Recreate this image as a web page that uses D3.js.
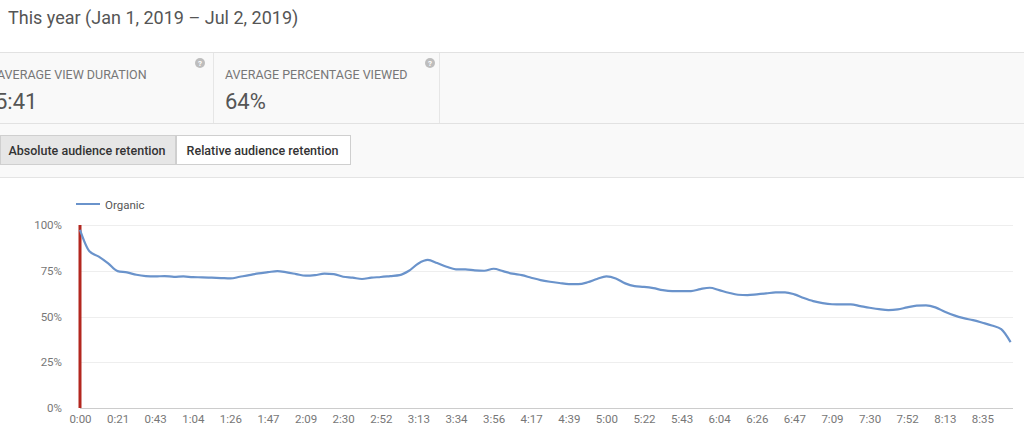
<!DOCTYPE html>
<html>
<head>
<meta charset="utf-8">
<script src="https://cdn.jsdelivr.net/npm/d3@7"></script>
<style>
  html, body { margin: 0; padding: 0; background: #ffffff; overflow: hidden; }
  svg { display: block; font-family: Roboto, "Noto Sans", Arial, sans-serif; }
</style>
</head>
<body>
<svg id="chart" width="1024" height="429"></svg>
<script>
// ---- data ----
const titleText = "This year (Jan 1, 2019 \u2013 Jul 2, 2019)";
const metricLabels = ["AVERAGE VIEW DURATION", "AVERAGE PERCENTAGE VIEWED"];
const metricValues = ["5:41", "64%"];
const buttonLabels = ["Absolute audience retention", "Relative audience retention"];
const seriesName = "Organic";
// audience retention (%) at each of 100 points of the video
const retention = [
  97.3,85.6,82.7,79.0,74.8,74.1,72.8,72.1,71.9,72.1,
  71.7,71.9,71.5,71.4,71.2,71.0,70.8,71.7,72.6,73.6,
  74.2,74.8,74.1,73.2,72.3,72.6,73.4,73.2,71.7,71.2,
  70.5,71.2,71.6,72.1,72.6,75.0,79.0,80.9,79.2,77.2,
  75.8,75.8,75.2,75.0,76.1,74.8,73.4,72.6,71.2,69.9,
  69.0,68.3,67.7,67.7,68.7,70.5,71.9,70.8,68.1,66.6,
  66.2,65.5,64.4,63.9,63.9,63.9,65.0,65.7,64.4,63.0,
  61.9,61.7,62.1,62.6,63.2,63.2,62.1,60.1,58.4,57.3,
  56.7,56.6,56.6,55.7,54.8,54.0,53.5,53.9,55.0,55.9,
  56.1,55.0,52.6,50.6,49.1,48.0,46.6,45.1,43.1,36.0
];
const xTickLabels = ["0:00","0:21","0:43","1:04","1:26","1:47","2:09","2:30","2:52","3:13",
  "3:34","3:56","4:17","4:39","5:00","5:22","5:43","6:04","6:26","6:47",
  "7:09","7:30","7:52","8:13","8:35"];
const xTickPoints = [0,4,8,12,16,20,24,28,32,36,40,44,48,52,56,60,64,68,72,76,80,84,88,92,96];
const yTicks = [0, 25, 50, 75, 100];

// ---- drawing ----
const svg = d3.select("#chart");

// title
svg.append("text").attr("x", 8).attr("y", 24)
  .attr("font-size", 18).attr("fill", "#555").text(titleText);

// metrics panel
svg.append("rect").attr("x", 0).attr("y", 52).attr("width", 1024).attr("height", 125)
  .attr("fill", "#f9f9f9");
svg.append("line").attr("x1", 0).attr("x2", 1024).attr("y1", 52.5).attr("y2", 52.5)
  .attr("stroke", "#e2e2e2");
svg.append("line").attr("x1", 0).attr("x2", 1024).attr("y1", 123.5).attr("y2", 123.5)
  .attr("stroke", "#e2e2e2");
svg.append("line").attr("x1", 0).attr("x2", 1024).attr("y1", 177.5).attr("y2", 177.5)
  .attr("stroke", "#e4e4e4");
[213.5, 439.5].forEach(xx => svg.append("line").attr("x1", xx).attr("x2", xx)
  .attr("y1", 53).attr("y2", 123).attr("stroke", "#e6e6e6"));

const cardX = [-3, 225];
const helpX = [200, 430];
metricLabels.forEach((t, i) => {
  svg.append("text").attr("x", cardX[i]).attr("y", 79).attr("font-size", 12.5)
    .attr("fill", "#777").text(t);
  svg.append("text").attr("x", cardX[i] - (i === 0 ? 2 : 0)).attr("y", 109).attr("font-size", 22)
    .attr("fill", "#555").text(metricValues[i]);
  const g = svg.append("g").attr("transform", `translate(${helpX[i]},63)`);
  g.append("circle").attr("r", 5).attr("fill", "#bdbdbd");
  g.append("text").attr("y", 3).attr("text-anchor", "middle").attr("font-size", 8)
    .attr("font-weight", "bold").attr("fill", "#fff").text("?");
});

// buttons
const btnX = [0, 176], btnW = [176, 175];
buttonLabels.forEach((t, i) => {
  svg.append("rect").attr("x", btnX[i] + 0.5).attr("y", 135.5).attr("width", btnW[i] - 1)
    .attr("height", 29).attr("fill", i === 0 ? "#e6e6e6" : "#ffffff")
    .attr("stroke", "#cfcfcf");
  svg.append("text").attr("x", btnX[i] + btnW[i] / 2 - 1).attr("y", 155)
    .attr("text-anchor", "middle").attr("font-size", 12.5).attr("font-weight", 500)
    .attr("fill", "#333").text(t);
});

// chart area
const plotLeft = 80, plotRight = 1010.6, plotTop = 225, plotBottom = 408;
const x = d3.scaleLinear().domain([0, retention.length - 1]).range([plotLeft, plotRight]);
const y = d3.scaleLinear().domain([0, 100]).range([plotBottom, plotTop]);

// gridlines
svg.append("g").selectAll("line").data(yTicks.filter(d => d > 0)).join("line")
  .attr("x1", plotLeft).attr("x2", 1013)
  .attr("y1", d => Math.round(y(d)) + 0.5).attr("y2", d => Math.round(y(d)) + 0.5)
  .attr("stroke", "#eeeeee");
// baseline
svg.append("line").attr("x1", plotLeft).attr("x2", 1013)
  .attr("y1", Math.round(y(0)) + 0.5).attr("y2", Math.round(y(0)) + 0.5)
  .attr("stroke", "#cccccc");

// y axis labels
const yAxis = d3.axisLeft(y).tickValues(yTicks).tickFormat(d => d + "%").tickSize(0).tickPadding(0);
const yg = svg.append("g").attr("transform", `translate(62,0)`).call(yAxis);
yg.select(".domain").remove();
yg.selectAll("text").attr("font-size", 11.5).attr("fill", "#777")
  .attr("font-family", "Roboto, sans-serif");

// x axis labels
const xAxis = d3.axisBottom(x).tickValues(xTickPoints)
  .tickFormat((d, i) => xTickLabels[i]).tickSize(0).tickPadding(0);
const xg = svg.append("g").attr("transform", `translate(0,${plotBottom + 7})`).call(xAxis);
xg.select(".domain").remove();
xg.selectAll("text").attr("font-size", 11.5).attr("fill", "#777")
  .attr("font-family", "Roboto, sans-serif");

// red marker at 0:00
svg.append("line").attr("x1", x(0)).attr("x2", x(0))
  .attr("y1", y(100)).attr("y2", y(0))
  .attr("stroke", "#b3271f").attr("stroke-width", 3);

// retention line
const line = d3.line().x((d, i) => x(i)).y(d => y(d)).curve(d3.curveMonotoneX);
svg.append("path").datum(retention).attr("d", line)
  .attr("fill", "none").attr("stroke", "#6a93cb").attr("stroke-width", 2.2)
  .attr("stroke-linejoin", "round");

// legend
svg.append("line").attr("x1", 76).attr("x2", 100).attr("y1", 204).attr("y2", 204)
  .attr("stroke", "#6a93cb").attr("stroke-width", 2);
svg.append("text").attr("x", 105).attr("y", 208.5).attr("font-size", 11.5)
  .attr("fill", "#555").text(seriesName);
</script>
</body>
</html>
